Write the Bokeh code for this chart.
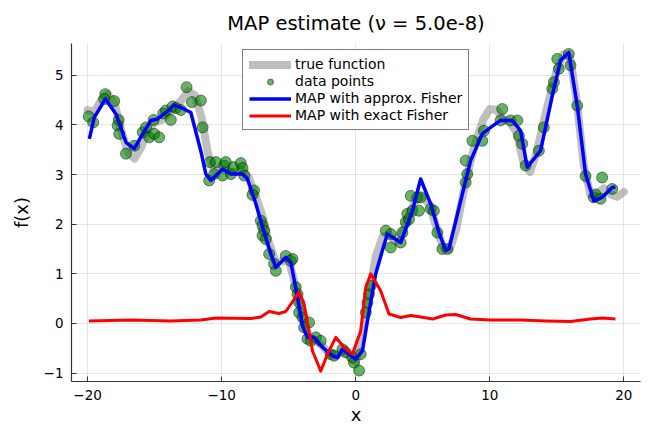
from bokeh.plotting import figure
from bokeh.models import Range1d, FixedTicker, Legend, LegendItem
from bokeh.embed import file_html
from bokeh.resources import INLINE

# true function
true_x = [-20, -19.5, -19, -18.5, -18, -17.5, -17, -16.5, -16, -15.5, -15, -14.5, -14, -13.5, -13, -12.5,
          -12, -11.5, -11, -10.5, -10, -9.5, -9, -8.5, -8, -7.5, -7, -6.5, -6, -5.5, -5, -4.5, -4, -3.5,
          -3, -2.5, -2, -1.5, -1, -0.5, 0, 0.5, 1, 1.5, 2, 2.5, 3, 3.5, 4, 4.5, 5, 5.5, 6, 6.5, 7, 7.5,
          8, 8.5, 9, 9.5, 10, 10.5, 11, 11.5, 12, 12.5, 13, 13.5, 14, 14.5, 15, 15.5, 16, 16.5, 17, 17.5,
          18, 18.5, 19, 19.5, 20]
true_y = [4.30, 4.25, 4.50, 4.62, 4.45, 3.90, 3.45, 3.32, 3.55, 3.90, 4.05, 4.10, 4.22, 4.35, 4.50, 4.68,
          4.60, 4.15, 3.40, 3.05, 3.10, 3.08, 3.05, 3.10, 2.95, 2.60, 2.20, 1.65, 1.25, 1.25, 1.30, 0.75,
          0.10, -0.25, -0.35, -0.45, -0.60, -0.65, -0.58, -0.65, -0.78, -0.30, 0.60, 1.35, 1.75, 1.78,
          1.65, 1.85, 2.20, 2.50, 2.55, 2.40, 1.95, 1.55, 1.48, 1.90, 2.60, 3.20, 3.70, 4.10, 4.32, 4.30,
          4.12, 4.05, 3.85, 3.25, 3.05, 3.45, 4.05, 4.60, 5.10, 5.42, 5.35, 4.45, 3.20, 2.60, 2.62, 2.72,
          2.60, 2.55, 2.65]

# noisy data points
data_x = [-19.92, -19.58, -18.68, -18.76, -18.01, -17.68, -17.76, -17.64, -17.14, -16.52, -15.89, -15.65,
          -15.40, -15.07, -15.03, -14.66, -14.36, -14.16, -13.79, -13.66, -13.41, -13.04, -12.62, -12.22,
          -11.55, -11.42, -10.88, -10.93, -10.56, -10.43, -9.93, -9.81, -9.69, -9.31, -9.11, -8.57, -8.44,
          -8.32, -7.58, -7.70, -7.08, -6.95, -6.83, -6.95, -6.71, -6.46, -6.09, -5.96, -5.22, -4.84, -4.72,
          -4.47, -4.34, -4.22, -4.22, -3.97, -3.48, -3.85, -3.60, -3.35, -2.98, -2.61, -1.86, -1.62, -0.99,
          -0.75, -0.25, -0.13, 0.37, 0.25, 0.75, 0.87, 0.99, 1.12, 2.24, 2.61, 2.61, 3.35, 3.48, 3.73,
          3.85, 3.97, 4.23, 4.10, 4.60, 4.84, 4.72, 5.59, 5.83, 6.09, 6.46, 6.83, 8.20, 8.32, 8.20, 8.70,
          9.44, 9.56, 10.80, 10.93, 11.55, 12.05, 12.17, 12.42, 12.67, 13.66, 14.03, 14.66, 14.78, 15.03,
          15.15, 15.89, 16.02, 16.52, 17.14, 17.76, 17.88, 18.26, 18.38, 19.13]
data_y = [4.17, 4.05, 4.62, 4.52, 4.48, 4.10, 3.99, 3.82, 3.42, 3.58, 3.85, 3.95, 3.75, 4.10, 3.82, 3.75,
          4.23, 4.29, 4.10, 4.37, 4.34, 4.30, 4.76, 4.46, 4.49, 3.95, 3.25, 2.88, 3.01, 3.25, 2.98, 3.18,
          3.25, 3.01, 3.15, 3.23, 3.13, 2.98, 2.68, 2.59, 2.07, 1.97, 1.87, 1.77, 1.70, 1.40, 1.20, 1.06,
          1.36, 1.26, 1.30, 0.73, 0.59, 0.42, 0.22, 0.12, 0.02, -0.08, -0.31, -0.35, -0.28, -0.35, -0.62,
          -0.65, -0.52, -0.58, -0.69, -0.79, -0.62, -0.95, 0.22, 0.42, 0.59, 0.76, 1.87, 1.80, 1.53, 1.63,
          1.83, 2.04, 2.21, 2.10, 2.27, 2.57, 2.54, 2.54, 2.27, 2.31, 2.27, 1.83, 1.50, 1.50, 2.84, 3.01,
          3.28, 3.68, 3.68, 3.88, 4.09, 4.32, 4.09, 4.09, 3.78, 3.62, 3.18, 3.48, 3.95, 4.73, 4.86, 5.33,
          5.13, 5.43, 5.20, 4.39, 2.97, 2.54, 2.60, 2.51, 2.94, 2.71]

# MAP with approximate Fisher
approx_x = [-19.87, -19.50, -18.68, -17.88, -17.14, -16.52, -15.89, -15.28, -14.78, -14.16, -13.54,
            -13.04, -12.30, -11.55, -11.18, -10.81, -9.93, -9.31, -8.44, -8.07, -7.45, -6.95, -6.33,
            -5.96, -5.22, -4.84, -4.34, -3.97, -3.60, -3.11, -2.48, -1.74, -1.36, -0.99, -0.50, 0.00,
            0.50, 0.87, 1.49, 1.99, 2.36, 3.35, 4.23, 4.84, 5.59, 6.21, 6.71, 6.95, 8.20, 8.57, 9.44,
            10.06, 10.80, 11.68, 12.30, 12.79, 13.79, 14.66, 15.28, 15.89, 16.52, 17.14, 17.76, 18.38,
            19.13, 19.37]
approx_y = [3.72, 4.15, 4.52, 4.22, 3.65, 3.52, 3.82, 4.09, 4.12, 4.25, 4.40, 4.35, 4.25, 3.47, 3.01,
            2.88, 3.11, 3.01, 3.01, 2.91, 2.41, 1.94, 1.40, 1.13, 1.33, 1.23, 0.52, -0.05, -0.28, -0.28,
            -0.48, -0.65, -0.69, -0.52, -0.62, -0.72, -0.55, 0.05, 1.00, 1.47, 1.80, 1.63, 2.27, 2.91,
            2.41, 1.83, 1.47, 1.50, 2.88, 3.28, 3.82, 3.95, 4.09, 4.09, 3.88, 3.15, 3.48, 4.59, 5.30,
            5.46, 4.39, 3.01, 2.47, 2.54, 2.74, 2.75]

# MAP with exact Fisher
exact_x = [-19.90, -16.77, -13.79, -11.55, -10.43, -7.82, -7.08, -6.46, -5.72, -5.22, -4.22, -3.85,
           -3.23, -2.61, -2.11, -1.49, -0.87, -0.25, 0.37, 0.75, 1.12, 1.86, 2.48, 3.35, 4.10, 4.84,
           5.74, 6.71, 7.45, 8.57, 10.06, 12.30, 14.16, 16.02, 17.51, 18.41, 19.37]
exact_y = [0.05, 0.07, 0.05, 0.07, 0.11, 0.10, 0.13, 0.24, 0.20, 0.24, 0.63, 0.39, -0.55, -0.96, -0.62,
           -0.28, -0.48, -0.62, -0.15, 0.73, 1.00, 0.66, 0.19, 0.12, 0.16, 0.13, 0.09, 0.17, 0.18, 0.09,
           0.07, 0.07, 0.05, 0.04, 0.09, 0.11, 0.09]

x_ticks = [-20, -10, 0, 10, 20]
y_ticks = [-1, 0, 1, 2, 3, 4, 5]

FONT = "DejaVu Sans"

p = figure(width=648, height=429, output_backend="svg", toolbar_location=None,
           x_range=Range1d(-21.2, 21.24), y_range=Range1d(-1.17, 5.64),
           min_border_left=71, min_border_right=8, min_border_top=43, min_border_bottom=48,
           title="MAP estimate (ν = 5.0e-8)")
p.outline_line_color = None
p.background_fill_color = "white"
p.border_fill_color = "white"

p.title.text_font = FONT
p.title.text_font_size = "19.5px"
p.title.text_font_style = "normal"
p.title.align = "center"
p.title.vertical_align = "bottom"
p.title.text_color = "black"
p.title.standoff = 18

for ax, ticks in ((p.xaxis[0], x_ticks), (p.yaxis[0], y_ticks)):
    ax.ticker = FixedTicker(ticks=ticks)
    ax.major_label_overrides = {t: (str(t).replace("-", "\u2212")) for t in ticks}
    ax.major_label_text_font = FONT
    ax.major_label_text_font_size = "13.5px"
    ax.major_label_text_color = "black"
    ax.axis_label_text_font = FONT
    ax.axis_label_text_font_size = "18px"
    ax.axis_label_text_font_style = "normal"
    ax.axis_label_text_color = "black"
    ax.axis_line_color = "#333333"
    ax.axis_line_width = 1.2
    ax.major_tick_line_color = "#333333"
    ax.major_tick_in = 5
    ax.major_tick_out = 0
    ax.minor_tick_line_color = None

p.xaxis.axis_label = "x"
p.yaxis.axis_label = "f(x)"
p.xaxis.major_label_standoff = 8
p.xaxis.axis_label_standoff = 1
p.yaxis.major_label_standoff = 8
p.yaxis.axis_label_standoff = 9

p.grid.grid_line_color = "black"
p.grid.grid_line_alpha = 0.1
p.grid.grid_line_width = 1
p.xgrid.ticker = FixedTicker(ticks=x_ticks)
p.ygrid.ticker = FixedTicker(ticks=y_ticks)

r_true = p.line(true_x, true_y, line_color="gray", line_alpha=0.5, line_width=8,
                line_cap="round", line_join="round")
r_data = p.scatter(data_x, data_y, size=11, fill_color="green", fill_alpha=0.6,
                   line_color="black", line_alpha=0.45, line_width=1)
r_approx = p.line(approx_x, approx_y, line_color="blue", line_width=3.5, line_join="round")
r_exact = p.line(exact_x, exact_y, line_color="red", line_width=3, line_join="round")

legend = Legend(items=[
    LegendItem(label="true function", renderers=[r_true]),
    LegendItem(label="data points", renderers=[r_data]),
    LegendItem(label="MAP with approx. Fisher", renderers=[r_approx]),
    LegendItem(label="MAP with exact Fisher", renderers=[r_exact]),
], location=(171, 251))
legend.margin = 0
legend.padding = 6
legend.spacing = 1
legend.glyph_width = 42
legend.glyph_height = 15
legend.label_height = 15
legend.label_standoff = 4
legend.label_text_font = FONT
legend.label_text_font_size = "14px"
legend.label_text_color = "black"
legend.border_line_color = "black"
legend.border_line_width = 1
legend.background_fill_color = "white"
legend.background_fill_alpha = 1
p.add_layout(legend)

open("out.html", "w").write(file_html(p, INLINE))
